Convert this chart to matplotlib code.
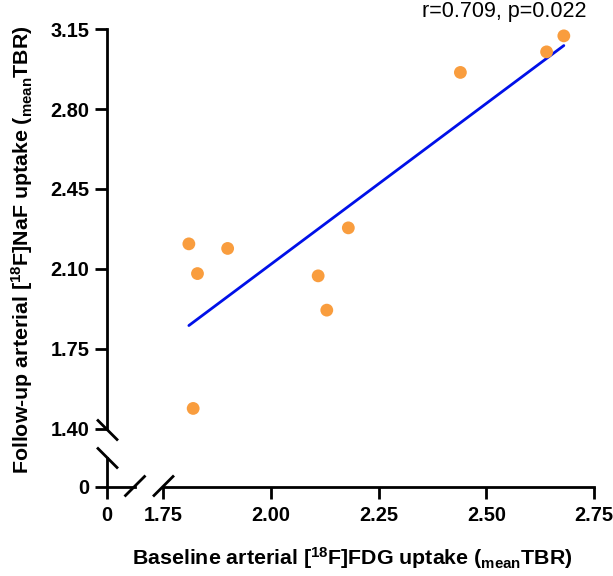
import numpy as np
import matplotlib
matplotlib.use('Agg')
import matplotlib.pyplot as plt
from matplotlib.lines import Line2D

# data
fdg = [1.81, 1.82, 1.83, 1.90, 2.11, 2.13, 2.18, 2.44, 2.64, 2.68]
naf = [2.21, 1.49, 2.08, 2.19, 2.07, 1.92, 2.28, 2.96, 3.05, 3.12]
x_ticks = [1.75, 2.00, 2.25, 2.50, 2.75]
y_ticks = [1.40, 1.75, 2.10, 2.45, 2.80, 3.15]
stats_text = 'r=0.709, p=0.022'
x_label = 'Baseline arterial [$^{18}$F]FDG uptake ($_{mean}$TBR)'
y_label = 'Follow-up arterial [$^{18}$F]NaF uptake ($_{mean}$TBR)'

plt.rcParams['font.family'] = ['Liberation Sans', 'DejaVu Sans']
plt.rcParams['mathtext.fontset'] = 'custom'
plt.rcParams['mathtext.rm'] = 'Liberation Sans:bold'
plt.rcParams['mathtext.it'] = 'Liberation Sans:bold'
plt.rcParams['mathtext.bf'] = 'Liberation Sans:bold'

W, H = 613, 576
fig = plt.figure(figsize=(W / 100, H / 100), dpi=100)

def fx(px):
    return px / W

def fy(py):
    return 1 - py / H

lw = 2.0
tick_kw = dict(length=8.6, width=lw, labelsize=14.4, direction='out')

# main axes (data area)
ax = fig.add_axes([fx(163), fy(429), fx(594) - fx(163), fy(29) - fy(429)])
ax.set_xlim(1.75, 2.75)
ax.set_ylim(1.40, 3.15)
for s in ['top', 'right']:
    ax.spines[s].set_visible(False)
ax.spines['left'].set_position(('outward', 56 * 0.72))
ax.spines['bottom'].set_position(('outward', 58 * 0.72))
for s in ['left', 'bottom']:
    ax.spines[s].set_linewidth(lw)
ax.set_xticks(x_ticks)
ax.set_xticklabels([f'{v:.2f}' for v in x_ticks], fontweight='bold')
ax.set_yticks(y_ticks)
ax.set_yticklabels([f'{v:.2f}' for v in y_ticks], fontweight='bold')
ax.tick_params(axis='both', **tick_kw)
ax.tick_params(axis='x', pad=5)
ax.tick_params(axis='y', pad=4)

# regression line
k, b = np.polyfit(fdg, naf, 1)
xl = np.array([min(fdg), max(fdg)])
ax.plot(xl, k * xl + b, color='#0010E8', lw=2.0, solid_capstyle='round', zorder=2)
ax.scatter(fdg, naf, s=85, color='#F99D3E', edgecolors='none', zorder=3, clip_on=False)

ax.text((587 - 163) / 431, (429 - 11) / 400, stats_text, transform=ax.transAxes,
        ha='right', va='center', fontsize=15.5)

# zero part of the broken axes
ax0 = fig.add_axes([fx(107), fy(487), fx(135) - fx(107), fy(458) - fy(487)])
ax0.set_xlim(0, 1)
ax0.set_ylim(0, 1)
ax0.patch.set_visible(False)
for s in ['top', 'right']:
    ax0.spines[s].set_visible(False)
for s in ['left', 'bottom']:
    ax0.spines[s].set_linewidth(lw)
ax0.set_xticks([0])
ax0.set_xticklabels(['0'], fontweight='bold')
ax0.set_yticks([0])
ax0.set_yticklabels(['0'], fontweight='bold')
ax0.tick_params(axis='both', **tick_kw)
ax0.tick_params(axis='x', pad=5)
ax0.tick_params(axis='y', pad=4)

# break marks
def brk(cx, cy, sign):
    d = 9.5
    fig.add_artist(Line2D([fx(cx - d), fx(cx + d)], [fy(cy + sign * d), fy(cy - sign * d)],
                          transform=fig.transFigure, color='black', lw=lw))

brk(107.5, 430, -1)
brk(107.5, 458, -1)
brk(135, 486, 1)
brk(163.5, 486, 1)

fig.text(fx(352), fy(558), x_label, ha='center', va='center', fontsize=15.4, fontweight='bold')
fig.text(fx(22), fy(250), y_label, ha='center', va='center', rotation=90,
         fontsize=15.4, fontweight='bold')

fig.savefig('out.png', dpi=100)
